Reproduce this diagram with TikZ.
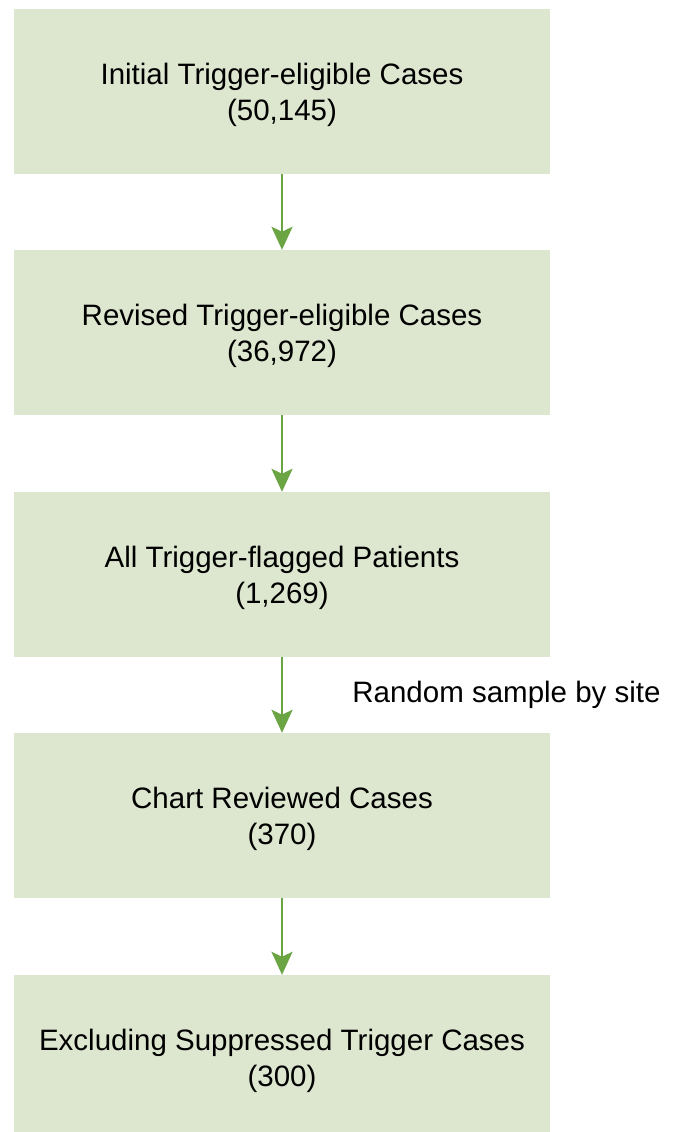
\documentclass[tikz,border=0pt]{standalone}
\usepackage{fontspec}
\setmainfont{Liberation Sans}
\usepackage{xcolor}
\usetikzlibrary{arrows.meta}
\definecolor{boxfill}{HTML}{DDE6CF}
\definecolor{arrowgreen}{HTML}{6AA443}

\begin{document}
\begin{tikzpicture}[x=1pt,y=-1pt]
\tikzstyle{every node}+=[inner sep=0pt]
\tikzstyle{stage}=[fill=boxfill, minimum width=536pt, minimum height=165pt, align=center, text depth=-8pt, font=\fontsize{29.5}{36}\selectfont]
\tikzstyle{flow}=[arrowgreen, line width=2.8pt, -{Stealth[length=23pt,width=21pt,inset=5pt]}]
\useasboundingbox (0,0) rectangle (681,1132);
\node [stage] (initial) at (282,91.5) {Initial Trigger-eligible Cases\\(50,145)};
\node [stage] (revised) at (282,332.5) {Revised Trigger-eligible Cases\\(36,972)};
\node [stage] (flagged) at (282,574.5) {All Trigger-flagged Patients\\(1,269)};
\node [stage] (reviewed) at (282,815.5) {Chart Reviewed Cases\\(370)};
\node [stage] (excluding) at (282,1057.5) {Excluding Suppressed Trigger Cases\\(300)};
\draw [flow] (initial) -- (revised);
\draw [flow] (revised) -- (flagged);
\draw [flow] (flagged) -- (reviewed);
\draw [flow] (reviewed) -- (excluding);
\node [font=\fontsize{29.5}{36}\selectfont] (sample) at (506.5,695) {Random sample by site};
\end{tikzpicture}
\end{document}
